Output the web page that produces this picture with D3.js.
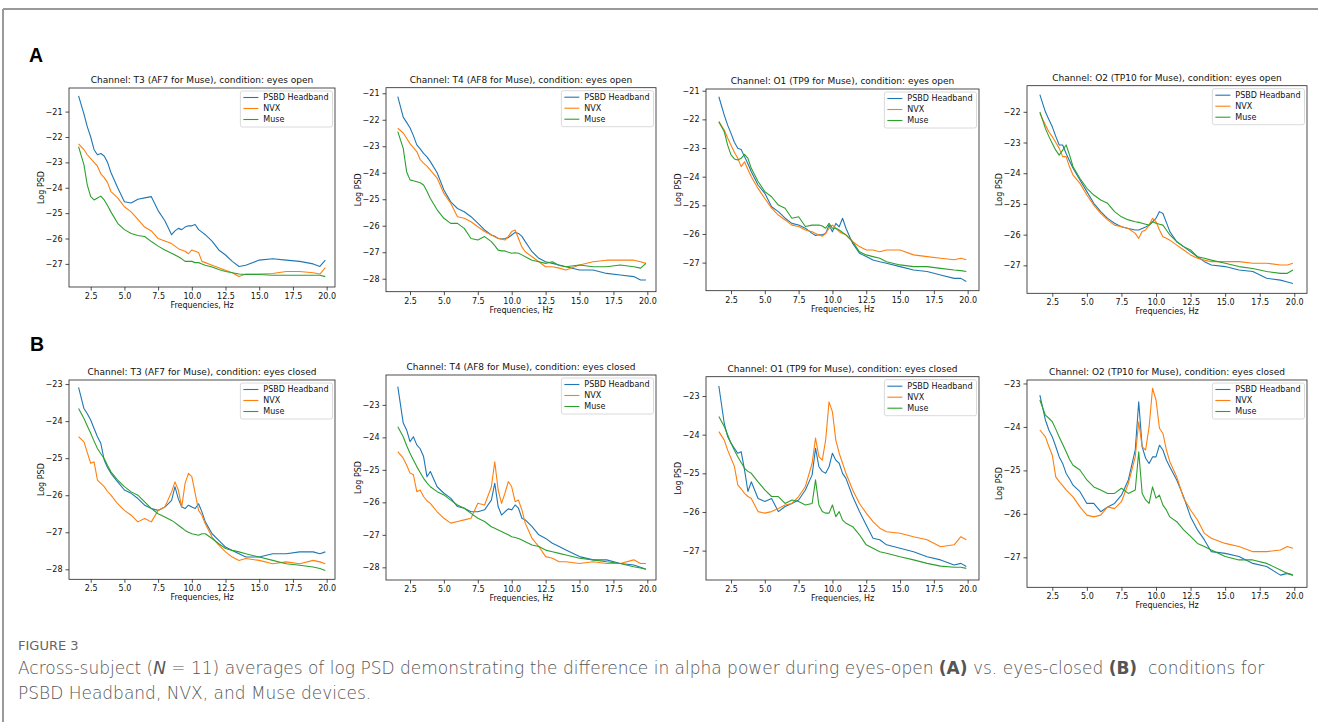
<!DOCTYPE html>
<html>
<head>
<meta charset="utf-8">
<script src="https://cdn.jsdelivr.net/npm/d3@7"></script>
<style>
  body { margin: 0; background: #fff; }
  svg text { font-family: "DejaVu Sans", sans-serif; }
</style>
</head>
<body>
<svg id="fig" width="1318" height="722"></svg>
<script>
// frequency grid, Hz
const freqs = [1.6, 2, 2.25, 2.5, 2.75, 3, 3.25, 3.5, 3.75, 4, 4.5, 5, 5.5, 6, 6.5, 7, 7.5, 8, 8.5, 8.75,
  9, 9.25, 9.5, 9.75, 10, 10.25, 10.5, 10.75, 11, 11.5, 12, 12.5, 13, 13.5, 14, 15, 16, 17, 18, 19, 19.5, 19.9];

const devices = ["PSBD Headband", "NVX", "Muse"];
const channels = ["T3 (AF7 for Muse)", "T4 (AF8 for Muse)", "O1 (TP9 for Muse)", "O2 (TP10 for Muse)"];
const conditions = ["eyes open", "eyes closed"];
const xTicks = [2.5, 5, 7.5, 10, 12.5, 15, 17.5, 20];

// ---- eyes open ----
const psbdOpenT3 = [-20.38, -21.1, -21.6, -22.0, -22.5, -22.7, -22.65, -22.75, -23.0, -23.4, -24.0, -24.55, -24.6, -24.45, -24.4, -24.35, -24.9, -25.3, -25.85, -25.7,
  -25.6, -25.65, -25.55, -25.5, -25.5, -25.45, -25.65, -25.75, -25.85, -26.1, -26.45, -26.65, -26.9, -27.1, -27.05, -26.85, -26.8, -26.85, -26.9, -27.0, -27.1, -26.85];
const nvxOpenT3 = [-22.27, -22.5, -22.7, -22.85, -23.0, -23.15, -23.45, -23.6, -23.8, -24.15, -24.4, -24.75, -24.95, -25.25, -25.55, -25.7, -26.0, -26.1, -26.2, -26.3,
  -26.4, -26.45, -26.5, -26.6, -26.45, -26.5, -26.55, -26.9, -26.95, -27.05, -27.15, -27.25, -27.35, -27.5, -27.4, -27.4, -27.38, -27.3, -27.3, -27.35, -27.4, -27.15];
const museOpenT3 = [-22.38, -23.1, -23.9, -24.35, -24.48, -24.4, -24.33, -24.48, -24.7, -24.95, -25.4, -25.65, -25.8, -25.88, -25.92, -26.12, -26.3, -26.45, -26.58, -26.65,
  -26.72, -26.8, -26.9, -26.9, -26.9, -26.95, -26.95, -27.0, -27.05, -27.12, -27.22, -27.3, -27.35, -27.4, -27.42, -27.42, -27.45, -27.45, -27.45, -27.45, -27.45, -27.5];

const psbdOpenT4 = [-21.13, -21.9, -22.1, -22.3, -22.6, -22.95, -23.1, -23.27, -23.4, -23.58, -24.0, -24.65, -25.1, -25.35, -25.47, -25.66, -25.9, -26.16, -26.35, -26.4,
  -26.48, -26.5, -26.48, -26.45, -26.35, -26.25, -26.29, -26.4, -26.6, -26.98, -27.23, -27.36, -27.42, -27.48, -27.55, -27.67, -27.67, -27.8, -27.86, -27.92, -28.05, -28.05];
const nvxOpenT4 = [-22.32, -22.5, -22.7, -22.9, -23.05, -23.2, -23.5, -23.64, -23.75, -23.9, -24.2, -24.78, -25.15, -25.66, -25.72, -25.85, -26.04, -26.22, -26.35, -26.42,
  -26.48, -26.5, -26.54, -26.4, -26.22, -26.16, -26.48, -26.8, -26.98, -27.17, -27.36, -27.55, -27.55, -27.6, -27.67, -27.48, -27.36, -27.3, -27.3, -27.3, -27.36, -27.42];
const museOpenT4 = [-22.45, -23.08, -23.96, -24.27, -24.3, -24.34, -24.38, -24.46, -24.7, -24.97, -25.4, -25.72, -25.91, -25.91, -26.1, -26.48, -26.54, -26.41, -26.6, -26.75,
  -26.92, -26.95, -26.95, -27.0, -27.04, -27.02, -27.04, -27.1, -27.17, -27.3, -27.36, -27.42, -27.36, -27.5, -27.55, -27.48, -27.55, -27.55, -27.48, -27.55, -27.6, -27.42];

const psbdOpenO1 = [-21.21, -21.85, -22.2, -22.49, -22.8, -23.01, -23.05, -23.3, -23.55, -23.83, -24.29, -24.58, -25.05, -25.22, -25.45, -25.63, -25.69, -25.8, -25.98, -26.05,
  -26.03, -26.03, -25.98, -25.69, -25.92, -25.63, -25.75, -25.45, -25.8, -26.33, -26.67, -26.79, -26.91, -26.97, -27.02, -27.14, -27.26, -27.31, -27.43, -27.55, -27.55, -27.66];
const nvxOpenO1 = [-22.08, -22.37, -22.65, -22.9, -23.15, -23.36, -23.65, -23.48, -23.75, -24.0, -24.41, -24.76, -25.1, -25.34, -25.51, -25.69, -25.74, -25.86, -25.92, -25.98,
  -26.03, -26.08, -25.98, -25.8, -25.69, -25.8, -25.92, -25.98, -26.03, -26.27, -26.44, -26.56, -26.56, -26.62, -26.56, -26.56, -26.73, -26.79, -26.85, -26.9, -26.85, -26.9];
const museOpenO1 = [-22.08, -22.43, -22.9, -23.24, -23.38, -23.42, -23.36, -23.22, -23.36, -23.71, -24.17, -24.52, -24.7, -24.99, -25.1, -25.45, -25.4, -25.74, -25.69, -25.69,
  -25.69, -25.72, -25.8, -25.63, -25.8, -25.8, -25.86, -25.95, -26.03, -26.27, -26.62, -26.73, -26.79, -26.85, -26.97, -27.08, -27.14, -27.14, -27.2, -27.26, -27.28, -27.31];

const psbdOpenO2 = [-21.44, -22.0, -22.25, -22.49, -22.8, -23.08, -23.08, -23.36, -23.6, -23.84, -24.22, -24.6, -24.98, -25.25, -25.47, -25.63, -25.74, -25.8, -25.85, -25.85,
  -25.8, -25.75, -25.69, -25.58, -25.47, -25.25, -25.31, -25.6, -25.9, -26.23, -26.39, -26.56, -26.72, -26.88, -26.99, -27.04, -27.15, -27.2, -27.42, -27.48, -27.54, -27.59];
const nvxOpenO2 = [-22.05, -22.43, -22.65, -22.81, -23.0, -23.19, -23.46, -23.46, -23.8, -24.06, -24.33, -24.71, -25.04, -25.31, -25.52, -25.69, -25.74, -25.8, -25.96, -26.12,
  -25.9, -25.85, -25.69, -25.47, -25.58, -25.85, -26.07, -26.12, -26.18, -26.34, -26.5, -26.66, -26.77, -26.83, -26.88, -26.88, -26.88, -26.93, -26.93, -26.99, -26.99, -26.93];
const museOpenO2 = [-22.0, -22.54, -22.8, -23.03, -23.25, -23.41, -23.25, -23.08, -23.41, -23.79, -24.17, -24.49, -24.71, -24.87, -24.98, -25.25, -25.42, -25.52, -25.58, -25.6,
  -25.63, -25.66, -25.69, -25.58, -25.63, -25.66, -25.69, -25.85, -26.01, -26.23, -26.39, -26.5, -26.72, -26.77, -26.83, -26.93, -27.04, -27.1, -27.2, -27.26, -27.26, -27.15];

// ---- eyes closed ----
const psbdClosedT3 = [-23.09, -23.66, -23.8, -23.97, -24.2, -24.42, -24.6, -25.05, -25.25, -25.41, -25.64, -25.86, -25.95, -26.09, -26.27, -26.36, -26.41, -26.32, -26.14, -25.77,
  -26.1, -26.32, -26.36, -26.27, -26.32, -26.36, -26.23, -26.45, -26.72, -27.04, -27.22, -27.4, -27.49, -27.58, -27.67, -27.67, -27.58, -27.58, -27.53, -27.53, -27.58, -27.53];
const nvxClosedT3 = [-24.42, -24.56, -24.85, -25.14, -25.1, -25.59, -25.68, -25.77, -25.9, -26.0, -26.23, -26.41, -26.54, -26.72, -26.63, -26.72, -26.41, -26.32, -25.91, -25.64,
  -25.86, -26.32, -25.68, -25.41, -25.5, -25.95, -26.41, -26.54, -26.77, -27.13, -27.35, -27.53, -27.67, -27.76, -27.71, -27.76, -27.85, -27.8, -27.85, -27.76, -27.8, -27.85];
const museClosedT3 = [-23.66, -23.93, -24.13, -24.33, -24.54, -24.74, -24.88, -25.01, -25.2, -25.37, -25.59, -25.77, -25.91, -26.0, -26.18, -26.36, -26.5, -26.59, -26.68, -26.74,
  -26.81, -26.88, -26.95, -27.0, -27.04, -27.06, -27.08, -27.04, -27.04, -27.17, -27.31, -27.44, -27.49, -27.53, -27.58, -27.67, -27.76, -27.85, -27.89, -27.94, -27.98, -28.03];

const psbdClosedT4 = [-22.44, -23.56, -23.77, -24.13, -23.98, -24.23, -24.35, -24.59, -25.21, -25.05, -25.52, -25.72, -25.87, -26.13, -26.18, -26.29, -26.29, -26.23, -25.93, -25.41,
  -26.13, -26.39, -26.29, -26.2, -26.23, -26.08, -26.18, -26.49, -26.54, -26.75, -27.0, -27.11, -27.26, -27.36, -27.47, -27.67, -27.77, -27.77, -27.88, -27.93, -28.0, -28.06];
const nvxClosedT4 = [-24.44, -24.64, -24.85, -25.1, -25.15, -25.67, -25.62, -25.82, -25.95, -26.03, -26.29, -26.49, -26.64, -26.59, -26.54, -26.49, -26.03, -26.08, -25.52, -24.75,
  -25.62, -26.03, -25.72, -25.36, -25.52, -25.98, -25.93, -26.23, -26.64, -27.11, -27.36, -27.67, -27.72, -27.83, -27.83, -27.88, -27.83, -27.88, -27.88, -27.77, -27.88, -27.88];
const museClosedT4 = [-23.67, -23.98, -24.25, -24.49, -24.7, -24.9, -25.08, -25.26, -25.4, -25.52, -25.67, -25.77, -25.93, -26.08, -26.18, -26.34, -26.49, -26.59, -26.75, -26.8,
  -26.85, -26.9, -26.95, -27.0, -27.06, -27.08, -27.11, -27.16, -27.21, -27.31, -27.36, -27.47, -27.52, -27.57, -27.62, -27.72, -27.77, -27.83, -27.88, -27.98, -28.02, -28.06];

const psbdClosedO1 = [-22.74, -23.71, -24.05, -24.22, -24.35, -24.48, -24.44, -24.91, -25.47, -25.22, -25.65, -25.73, -25.65, -25.99, -25.86, -25.78, -25.69, -25.43, -25.04, -24.35,
  -24.83, -24.95, -25.0, -24.83, -24.48, -24.66, -24.74, -25.0, -25.13, -25.6, -25.99, -26.34, -26.68, -26.72, -26.85, -26.94, -27.03, -27.16, -27.24, -27.37, -27.33, -27.41];
const nvxClosedO1 = [-23.92, -24.14, -24.4, -24.61, -24.82, -25.3, -25.4, -25.52, -25.6, -25.65, -25.99, -26.03, -25.99, -25.91, -25.82, -25.78, -25.6, -25.34, -24.74, -24.09,
  -24.57, -24.66, -24.14, -23.15, -23.41, -24.14, -24.48, -24.74, -25.0, -25.43, -25.78, -26.03, -26.25, -26.42, -26.51, -26.55, -26.64, -26.72, -26.9, -26.85, -26.64, -26.72];
const museClosedO1 = [-23.53, -23.79, -24.0, -24.22, -24.4, -24.57, -24.72, -24.87, -24.95, -25.0, -25.22, -25.43, -25.6, -25.6, -25.78, -25.69, -25.73, -25.82, -25.78, -25.17,
  -25.82, -25.99, -26.03, -26.03, -25.82, -26.12, -25.99, -26.21, -26.29, -26.38, -26.59, -26.85, -26.94, -27.03, -27.07, -27.16, -27.24, -27.33, -27.4, -27.43, -27.43, -27.46];

const psbdClosedO2 = [-23.27, -23.84, -24.07, -24.23, -24.45, -24.69, -24.84, -25.07, -25.2, -25.34, -25.49, -25.76, -25.76, -25.95, -25.84, -25.76, -25.57, -25.22, -24.53, -23.42,
  -24.46, -24.72, -24.84, -24.69, -24.69, -24.42, -24.53, -24.76, -24.92, -25.22, -25.61, -26.07, -26.37, -26.6, -26.87, -26.91, -26.98, -27.14, -27.21, -27.41, -27.37, -27.41];
const nvxClosedO2 = [-24.07, -24.23, -24.45, -24.65, -25.15, -25.26, -25.35, -25.45, -25.53, -25.61, -25.84, -26.03, -26.07, -26.03, -25.84, -25.88, -25.72, -25.3, -24.69, -23.88,
  -24.46, -24.53, -24.0, -23.11, -23.38, -24.03, -24.15, -24.53, -24.8, -25.15, -25.64, -25.91, -26.14, -26.45, -26.56, -26.68, -26.75, -26.87, -26.87, -26.83, -26.75, -26.79];
const museClosedO2 = [-23.38, -23.73, -23.8, -23.88, -24.05, -24.23, -24.4, -24.57, -24.75, -24.88, -24.99, -25.22, -25.38, -25.45, -25.53, -25.53, -25.41, -25.53, -25.45, -24.57,
  -25.53, -25.68, -25.76, -25.38, -25.64, -25.57, -25.8, -25.91, -26.07, -26.18, -26.37, -26.52, -26.68, -26.75, -26.83, -26.98, -27.06, -27.06, -27.14, -27.29, -27.37, -27.41];

const openSeries = [
  [psbdOpenT3, nvxOpenT3, museOpenT3],
  [psbdOpenT4, nvxOpenT4, museOpenT4],
  [psbdOpenO1, nvxOpenO1, museOpenO1],
  [psbdOpenO2, nvxOpenO2, museOpenO2],
];
const closedSeries = [
  [psbdClosedT3, nvxClosedT3, museClosedT3],
  [psbdClosedT4, nvxClosedT4, museClosedT4],
  [psbdClosedO1, nvxClosedO1, museClosedO1],
  [psbdClosedO2, nvxClosedO2, museClosedO2],
];

// axis limits
const xLimits = [[0.89, 20.62], [0.73, 20.64], [0.65, 20.84], [0.67, 20.92]];
const yLimitsOpen = [[-27.91, -20.07], [-28.49, -20.79], [-27.98, -20.94], [-27.91, -21.15]];
const yLimitsClosed = [[-28.27, -22.89], [-28.39, -22.08], [-27.76, -22.5], [-27.69, -22.92]];

// layout (pixels)
const colors = ["#1f77b4", "#ff7f0e", "#2ca02c"];
const cols = [{ l: 69, r: 335 }, { l: 386, r: 656 }, { l: 706, r: 979 }, { l: 1027, r: 1307 }];
const rowsOpen = [{ t: 88, b: 287 }, { t: 87.7, b: 291.7 }, { t: 89, b: 290.7 }, { t: 85.7, b: 293.3 }];
const rowsClosed = [{ t: 380, b: 579.3 }, { t: 375, b: 580 }, { t: 376.7, b: 580 }, { t: 380, b: 587.3 }];

const svg = d3.select("#fig");

// figure frame
svg.append("line").attr("x1", 3).attr("x2", 1318).attr("y1", 9).attr("y2", 9)
  .attr("stroke", "#9a9a9a").attr("stroke-width", 2);
svg.append("line").attr("x1", 3).attr("x2", 3).attr("y1", 9).attr("y2", 722)
  .attr("stroke", "#9a9a9a").attr("stroke-width", 2);

// panel letters
svg.append("text").attr("x", 29).attr("y", 62).text("A")
  .style("font-family", "'Liberation Sans', Arial, sans-serif").style("font-weight", "bold").style("font-size", "19.5px");
svg.append("text").attr("x", 30).attr("y", 351).text("B")
  .style("font-family", "'Liberation Sans', Arial, sans-serif").style("font-weight", "bold").style("font-size", "19.5px");

function drawPanel(box, xDom, yDom, series, title) {
  const x = d3.scaleLinear().domain(xDom).range([box.l, box.r]);
  const y = d3.scaleLinear().domain(yDom).range([box.b, box.t]);
  const g = svg.append("g");

  const clipId = "clip" + Math.round(box.l) + "_" + Math.round(box.t);
  g.append("clipPath").attr("id", clipId).append("rect")
    .attr("x", box.l).attr("y", box.t).attr("width", box.r - box.l).attr("height", box.b - box.t);

  const line = d3.line().x((d, i) => x(freqs[i])).y(d => y(d));
  series.forEach((s, k) => {
    g.append("path").datum(s)
      .attr("d", line)
      .attr("fill", "none")
      .attr("stroke", colors[k])
      .attr("stroke-width", 1.1)
      .attr("stroke-linejoin", "round")
      .attr("clip-path", "url(#" + clipId + ")");
  });

  // axes
  const yt = d3.range(Math.ceil(yDom[0]), Math.floor(yDom[1]) + 1);
  const xa = g.append("g").attr("transform", "translate(0," + box.b + ")")
    .call(d3.axisBottom(x).tickValues(xTicks).tickFormat(d3.format(".1f")).tickSize(3.5).tickPadding(3));
  const ya = g.append("g").attr("transform", "translate(" + box.l + ",0)")
    .call(d3.axisLeft(y).tickValues(yt).tickFormat(d3.format("d")).tickSize(3.5).tickPadding(3));
  [xa, ya].forEach(a => {
    a.select(".domain").remove();
    a.selectAll("line").attr("stroke", "#222").attr("stroke-width", 0.8);
    a.selectAll("text").attr("fill", "#111").style("font-size", "8px")
      .style("font-family", "'DejaVu Sans', sans-serif");
  });

  g.append("rect")
    .attr("x", box.l).attr("y", box.t)
    .attr("width", box.r - box.l).attr("height", box.b - box.t)
    .attr("fill", "none").attr("stroke", "#222").attr("stroke-width", 0.8);

  g.append("text")
    .attr("x", (box.l + box.r) / 2).attr("y", box.t - 5)
    .attr("text-anchor", "middle").style("font-size", "9px").attr("fill", "#111")
    .text(title);
  g.append("text")
    .attr("x", (box.l + box.r) / 2).attr("y", box.b + 21)
    .attr("text-anchor", "middle").style("font-size", "8px").attr("fill", "#111")
    .text("Frequencies, Hz");
  g.append("text")
    .attr("transform", "translate(" + (box.l - 25.5) + "," + ((box.t + box.b) / 2) + ") rotate(-90)")
    .attr("text-anchor", "middle").style("font-size", "8px").attr("fill", "#111")
    .text("Log PSD");

  // legend, sized to its longest label
  const leg = g.append("g");
  const frame = leg.append("rect").attr("rx", 2)
    .attr("fill", "#fff").attr("fill-opacity", 0.85)
    .attr("stroke", "#d0d0d0").attr("stroke-width", 0.8);
  let maxLen = 0;
  devices.forEach((name, k) => {
    const yy = 6.5 + k * 11;
    leg.append("line").attr("x1", 3).attr("x2", 18).attr("y1", yy).attr("y2", yy)
      .attr("stroke", colors[k]).attr("stroke-width", 1.1);
    const t = leg.append("text").attr("x", 23).attr("y", yy).attr("dy", "0.35em")
      .style("font-size", "8px").attr("fill", "#111").text(name);
    maxLen = Math.max(maxLen, t.node().getComputedTextLength());
  });
  const lw = 23 + maxLen + 4, lh = 36;
  frame.attr("width", lw).attr("height", lh);
  leg.attr("transform", "translate(" + (box.r - 2.5 - lw) + "," + (box.t + 3) + ")");
}

channels.forEach((ch, i) => {
  drawPanel({ ...cols[i], ...rowsOpen[i] }, xLimits[i], yLimitsOpen[i], openSeries[i],
    "Channel: " + ch + ", condition: " + conditions[0]);
  drawPanel({ ...cols[i], ...rowsClosed[i] }, xLimits[i], yLimitsClosed[i], closedSeries[i],
    "Channel: " + ch + ", condition: " + conditions[1]);
});

// caption
const cap = svg.append("g").style("font-family", "'Open Sans', sans-serif").attr("fill", "#555");
cap.append("text").attr("x", 18).attr("y", 650).style("font-size", "13px").attr("fill", "#666")
  .text("FIGURE 3");
const l1 = cap.append("text").attr("x", 18).attr("y", 674).style("font-size", "17px")
  .style("font-weight", 300).attr("xml:space", "preserve");
l1.append("tspan").text("Across-subject (");
l1.append("tspan").style("font-style", "italic").style("font-weight", 400).text("N");
l1.append("tspan").text(" = 11) averages of log PSD demonstrating the difference in alpha power during eyes-open ");
l1.append("tspan").style("font-weight", 600).text("(A)");
l1.append("tspan").text(" vs. eyes-closed ");
l1.append("tspan").style("font-weight", 600).text("(B)");
l1.append("tspan").text("  conditions for");
cap.append("text").attr("x", 18).attr("y", 699).style("font-size", "17px").style("font-weight", 300)
  .text("PSBD Headband, NVX, and Muse devices.");
</script>
</body>
</html>
